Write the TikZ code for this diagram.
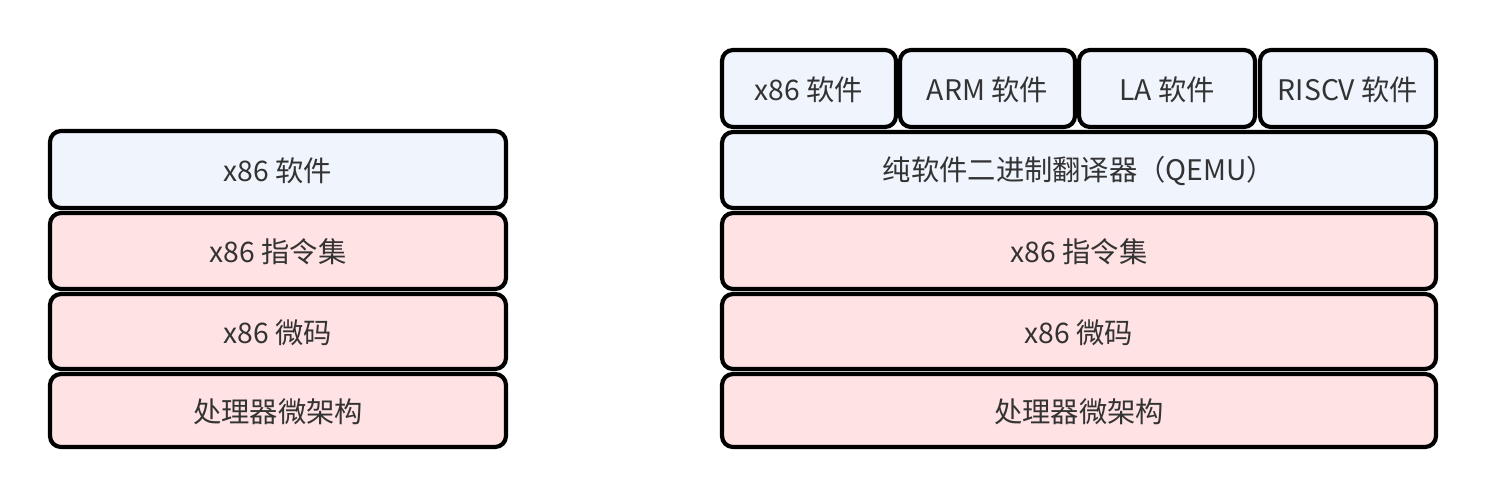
\documentclass[tikz,border=0pt]{standalone}
\usepackage{fontspec}
\setmainfont{Noto Sans CJK SC}
\definecolor{swblue}{HTML}{EFF4FD}
\definecolor{hwpink}{HTML}{FFE2E3}
\definecolor{txt}{HTML}{333333}
\begin{document}
\begin{tikzpicture}[x=1pt,y=-1pt,
  layer/.style={draw=black,line width=4.2pt,rounded corners=11pt},
  lbl/.style={font=\fontsize{28.3}{31}\selectfont,text=txt,inner sep=0pt,anchor=center}]
\useasboundingbox (0,0) rectangle (1486,498);
% left stack
\draw[layer,fill=swblue] (50,131) rectangle (506,208) node[lbl,midway,yshift=-1pt] (l1) {x86 软件};
\draw[layer,fill=hwpink] (50,213) rectangle (506,289) node[lbl,midway,yshift=-1pt] (l2) {x86 指令集};
\draw[layer,fill=hwpink] (50,294) rectangle (506,369) node[lbl,midway,yshift=-1pt] (l3) {x86 微码};
\draw[layer,fill=hwpink] (50,374) rectangle (506,447) node[lbl,midway,yshift=-1pt] (l4) {处理器微架构};
% right stack
\draw[layer,fill=swblue] (722,50) rectangle (896,127) node[lbl,midway,yshift=-1pt] (s1) {x86 软件};
\draw[layer,fill=swblue] (900,50) rectangle (1075,127) node[lbl,midway,yshift=-1pt] (s2) {ARM 软件};
\draw[layer,fill=swblue] (1079,50) rectangle (1255,127) node[lbl,midway,yshift=-1pt] (s3) {LA 软件};
\draw[layer,fill=swblue] (1260,50) rectangle (1436,127) node[lbl,midway,yshift=-1pt] (s4) {RISCV 软件};
\draw[layer,fill=swblue] (722,132) rectangle (1436,208) node[lbl,midway,yshift=-1pt] (r1) {纯软件二进制翻译器（QEMU）};
\draw[layer,fill=hwpink] (722,213) rectangle (1436,289) node[lbl,midway,yshift=-1pt] (r2) {x86 指令集};
\draw[layer,fill=hwpink] (722,294) rectangle (1436,369) node[lbl,midway,yshift=-1pt] (r3) {x86 微码};
\draw[layer,fill=hwpink] (722,374) rectangle (1436,447) node[lbl,midway,yshift=-1pt] (r4) {处理器微架构};
\end{tikzpicture}
\end{document}
